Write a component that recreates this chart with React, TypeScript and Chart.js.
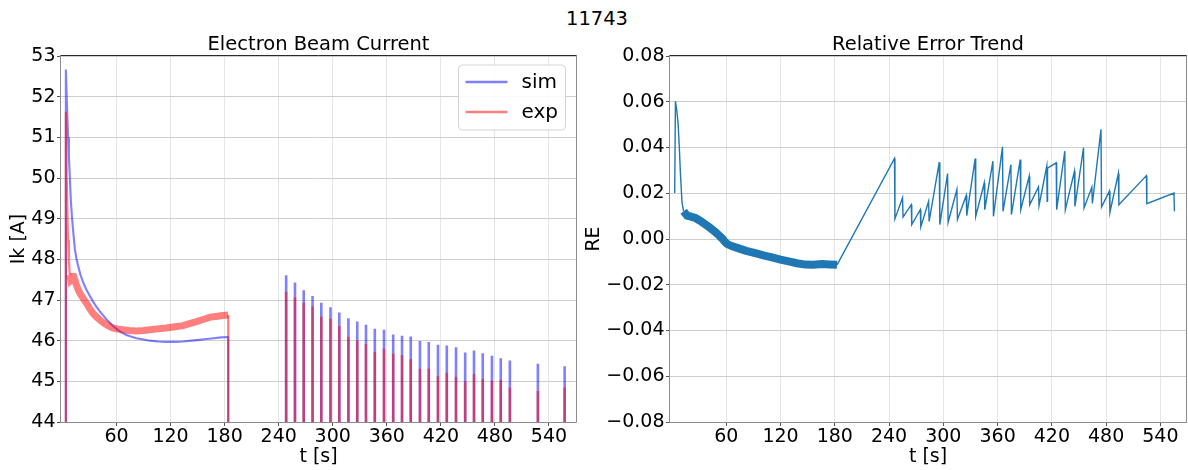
import React, { useEffect, useRef } from "react";
import { Chart, registerables } from "chart.js";

Chart.register(...registerables);

const FONT = "'DejaVu Sans', 'Liberation Sans', sans-serif";

// ---------- texts ----------
const suptitle = "11743";
const leftTitle = "Electron Beam Current";
const rightTitle = "Relative Error Trend";
const xLabel = "t [s]";
const leftYLabel = "Ik [A]";
const rightYLabel = "RE";
const legendLabels = ["sim", "exp"];

// ---------- ticks ----------
const xTicks = [60, 120, 180, 240, 300, 360, 420, 480, 540];
const ikTicks = [44, 45, 46, 47, 48, 49, 50, 51, 52, 53];
const reTicks = [-0.08, -0.06, -0.04, -0.02, 0, 0.02, 0.04, 0.06, 0.08];

// ---------- Electron beam current: continuous phase ----------
const offLevel = 0; // current between pulses (below the visible range)

const simT = [3.8, 5.0, 6.3, 7.2, 8.2, 9.3, 10.8, 12.3, 13.8, 15.5, 17.4, 20, 23, 26.5, 30.4, 34, 37.8, 41.5, 45.2, 49, 52.6, 56, 60, 65, 71, 76, 82, 90, 97, 106, 115, 125, 134, 143, 152, 160, 168, 176, 184];
const simV = [52.67, 51.8, 51.0, 50.5, 50.03, 49.46, 48.97, 48.6, 48.25, 48.02, 47.84, 47.62, 47.43, 47.26, 47.1, 46.96, 46.83, 46.72, 46.62, 46.52, 46.44, 46.36, 46.29, 46.21, 46.14, 46.1, 46.06, 46.03, 46.0, 45.98, 45.97, 45.97, 45.98, 46.0, 46.02, 46.04, 46.06, 46.08, 46.09];

const expT = [3.8, 4.8, 5.6, 6.3, 7.2, 8.2, 9.3, 10.3, 11.3, 12.6, 13.8, 14.9, 17, 19.3, 23, 26.7, 30, 34, 37.5, 41.5, 46, 50.7, 55, 60, 67, 74, 82, 90, 97, 106, 115, 125, 134, 141, 149, 156, 164, 172, 178, 184];
const expV = [51.63, 50.0, 49.0, 48.48, 47.95, 47.62, 47.48, 47.5, 47.58, 47.58, 47.5, 47.41, 47.28, 47.17, 47.04, 46.92, 46.8, 46.67, 46.59, 46.51, 46.43, 46.37, 46.32, 46.29, 46.27, 46.25, 46.24, 46.25, 46.27, 46.29, 46.31, 46.34, 46.37, 46.42, 46.47, 46.52, 46.58, 46.6, 46.62, 46.63];

// ---------- Electron beam current: pulsed phase ----------
const pulseT = [248.3, 258.1, 267.8, 277.6, 287.3, 297.5, 307.3, 317.4, 327.2, 336.9, 346.7, 356.9, 367.1, 376.9, 386.6, 396.8, 406.6, 416.8, 426.6, 436.8, 447.0, 456.8, 466.5, 476.7, 486.5, 496.6, 527.7, 557.4];
const pulseSim = [47.61, 47.43, 47.24, 47.1, 46.93, 46.82, 46.69, 46.55, 46.47, 46.39, 46.29, 46.27, 46.15, 46.12, 46.1, 45.99, 45.97, 45.9, 45.88, 45.84, 45.71, 45.76, 45.69, 45.63, 45.57, 45.51, 45.43, 45.37];
const pulseExp = [47.2, 47.06, 46.93, 46.84, 46.59, 46.54, 46.36, 46.09, 46.0, 45.92, 45.72, 45.81, 45.68, 45.65, 45.54, 45.31, 45.31, 45.13, 45.21, 45.11, 45.0, 45.18, 45.06, 45.02, 45.03, 44.85, 44.76, 44.85];

// ---------- Relative error ----------
const reHeadT = [3.0, 3.8, 5.2, 6.7, 8.0, 9.3, 11.1, 12.9];
const reHeadV = [0.0201, 0.0602, 0.0565, 0.0508, 0.041, 0.0289, 0.0158, 0.0121];

const reBandT = [12.9, 16.7, 21, 25.9, 31, 37, 42, 48, 52, 55.3, 58, 61, 66, 73.7, 82, 92, 101, 110.6, 120, 129, 138, 147.4, 156, 165.9, 174, 182.5];
const reBandV = [0.0121, 0.0102, 0.0098, 0.0092, 0.008, 0.0063, 0.0049, 0.003, 0.0016, 0.0003, -0.001, -0.0022, -0.0031, -0.0041, -0.0052, -0.0062, -0.0072, -0.008, -0.009, -0.0098, -0.0106, -0.0112, -0.0113, -0.0109, -0.0111, -0.0113];

const reTailT = [182.5, 246.0, 246.5, 254.9, 255.5, 264.5, 265.1, 274.5, 275.1, 283.7, 284.3, 295.5, 296.1, 304.7, 305.3, 315.0, 315.6, 325.3, 325.9, 335.2, 335.8, 345.2, 345.8, 354.8, 355.4, 365.4, 366.0, 374.7, 375.3, 385.0, 385.6, 394.9, 395.5, 405.2, 405.8, 414.4, 414.8, 415.2, 424.8, 425.3, 434.3, 434.9, 444.9, 445.5, 455.0, 455.6, 464.2, 464.8, 474.3, 474.9, 483.6, 484.2, 493.5, 494.1, 524.5, 525.0, 555.0, 555.5];
const reTailV = [-0.0113, 0.0352, 0.0088, 0.018, 0.0096, 0.015, 0.0063, 0.0128, 0.0053, 0.0165, 0.0077, 0.0336, 0.0063, 0.0286, 0.0073, 0.0216, 0.0085, 0.019, 0.0102, 0.0352, 0.0099, 0.0245, 0.0128, 0.034, 0.0099, 0.0403, 0.0121, 0.0325, 0.0107, 0.0347, 0.0128, 0.0274, 0.015, 0.0228, 0.0146, 0.032, 0.0165, 0.031, 0.0333, 0.0128, 0.0384, 0.0128, 0.0296, 0.0143, 0.0399, 0.0136, 0.0226, 0.0155, 0.0479, 0.014, 0.0209, 0.0117, 0.0286, 0.015, 0.0277, 0.0154, 0.0201, 0.0121];

// ---------- styles ----------
const SIM_COLOR = "rgba(0, 0, 255, 0.5)";
const EXP_COLOR = "rgba(255, 0, 0, 0.5)";
const RE_COLOR = "#1f77b4";

type P = { x: number; y: number | null };

const toPts = (t: number[], v: number[]): P[] => t.map((x, i) => ({ x, y: v[i] }));
const pulsePts = (t: number[], peaks: number[]): P[] => {
  const out: P[] = [];
  t.forEach((x, i) => {
    out.push({ x, y: offLevel }, { x, y: peaks[i] }, { x, y: offLevel });
  });
  return out;
};

const framePlugin = (withLegend: boolean) => ({
  id: "frameAndLegend",
  afterDraw(chart: any) {
    const { ctx, chartArea: ca } = chart;
    const l = Math.round(ca.left) - 0.5;
    const r = Math.round(ca.right) + 0.5;
    const t = Math.round(ca.top) - 0.5;
    const b = Math.round(ca.bottom) + 0.5;
    ctx.save();
    ctx.lineWidth = 1;
    ctx.strokeStyle = "#8c8c8c";
    ctx.beginPath();
    ctx.moveTo(l, t);
    ctx.lineTo(l, b);
    ctx.lineTo(r, b);
    ctx.lineTo(r, t);
    ctx.stroke();
    ctx.strokeStyle = "#2a2a2a";
    ctx.beginPath();
    ctx.moveTo(l, t);
    ctx.lineTo(r, t);
    ctx.stroke();

    if (withLegend) {
      const w = 107;
      const h = 65;
      const bx = ca.right - 10.5 - w;
      const by = ca.top + 9;
      ctx.beginPath();
      if ((ctx as any).roundRect) (ctx as any).roundRect(bx, by, w, h, 4);
      else ctx.rect(bx, by, w, h);
      ctx.fillStyle = "rgba(255,255,255,0.85)";
      ctx.fill();
      ctx.strokeStyle = "#d4d4d4";
      ctx.stroke();
      const colors = [SIM_COLOR, EXP_COLOR];
      legendLabels.forEach((lab, i) => {
        const y = by + 17 + i * 30;
        ctx.beginPath();
        ctx.strokeStyle = colors[i];
        ctx.lineWidth = 2.5;
        ctx.moveTo(bx + 7, y);
        ctx.lineTo(bx + 49, y);
        ctx.stroke();
        ctx.fillStyle = "#000";
        ctx.font = `20px ${FONT}`;
        ctx.textBaseline = "middle";
        ctx.textAlign = "left";
        ctx.fillText(lab, bx + 63, y + 1);
      });
    }
    ctx.restore();
  },
});

const tickFont = { family: FONT, size: 19, lineHeight: 1 };
const titleFont = { family: FONT, size: 19.5, weight: "normal" as const, lineHeight: 1 };

function buildXScale(min: number, max: number) {
  return {
    type: "linear" as const,
    min,
    max,
    afterBuildTicks: (axis: any) => {
      axis.ticks = xTicks.map((v) => ({ value: v }));
    },
    afterFit: (scale: any) => {
      scale.height = 48;
    },
    ticks: { font: tickFont, color: "#000", padding: 1.5, maxRotation: 0, autoSkip: false },
    grid: { color: "#e4e4e4", lineWidth: 1, tickLength: 4, tickColor: "#555" },
    border: { display: false },
    title: { display: true, text: xLabel, font: tickFont, color: "#000", padding: { top: 0, bottom: 3.5 } },
  };
}

function buildYScale(min: number, max: number, ticks: number[], width: number, label: string, titlePad: number, fmt: (v: number) => string) {
  return {
    type: "linear" as const,
    min,
    max,
    afterBuildTicks: (axis: any) => {
      axis.ticks = ticks.map((v) => ({ value: v }));
    },
    afterFit: (scale: any) => {
      scale.width = width;
    },
    ticks: { font: tickFont, color: "#000", padding: 1.5, callback: (v: any) => fmt(Number(v)) },
    grid: { color: "#cecece", lineWidth: 1, tickLength: 4, tickColor: "#555" },
    border: { display: false },
    title: { display: true, text: label, font: tickFont, color: "#000", padding: { top: titlePad, bottom: 0 } },
  };
}

const baseDs = { pointRadius: 0, pointHoverRadius: 0, tension: 0, fill: false, spanGaps: false };

function LeftChart() {
  const ref = useRef<HTMLCanvasElement>(null);
  useEffect(() => {
    const simCurve: P[] = [
      { x: simT[0], y: offLevel },
      ...toPts(simT, simV),
      { x: simT[simT.length - 1], y: offLevel },
    ];
    const simPulses: P[] = pulsePts(pulseT, pulseSim);
    const split = 5;
    const expThin: P[] = [
      { x: expT[0], y: offLevel },
      ...toPts(expT.slice(0, split + 1), expV.slice(0, split + 1)),
      { x: (expT[split] + expT[expT.length - 1]) / 2, y: null },
      { x: expT[expT.length - 1], y: expV[expV.length - 1] },
      { x: expT[expT.length - 1], y: offLevel },
    ];
    const expPulses: P[] = pulsePts(pulseT, pulseExp);
    const expBand: P[] = toPts(expT.slice(split), expV.slice(split));

    const chart = new Chart(ref.current as HTMLCanvasElement, {
      type: "line",
      data: {
        datasets: [
          { ...baseDs, label: "sim", data: simCurve as any, borderColor: SIM_COLOR, borderWidth: 2.1, order: 5 },
          { ...baseDs, label: "sim pulses", data: simPulses as any, borderColor: SIM_COLOR, borderWidth: 2.6, order: 4 },
          { ...baseDs, label: "exp", data: expBand as any, borderColor: EXP_COLOR, borderWidth: 7, order: 3 },
          { ...baseDs, label: "exp start", data: expThin as any, borderColor: EXP_COLOR, borderWidth: 2.2, order: 2 },
          { ...baseDs, label: "exp pulses", data: expPulses as any, borderColor: EXP_COLOR, borderWidth: 2.6, order: 1 },
        ],
      },
      options: {
        animation: false,
        responsive: false,
        devicePixelRatio: 1,
        events: [],
        layout: { padding: { left: 0, right: 4, top: 0, bottom: 0 } },
        plugins: {
          legend: { display: false },
          tooltip: { enabled: false },
          title: { display: true, text: leftTitle, fullSize: false, font: titleFont, color: "#000", padding: { top: 35, bottom: 1.5 } },
        },
        scales: {
          x: buildXScale(-1.6, 570) as any,
          y: buildYScale(44, 53, ikTicks, 61, leftYLabel, 9.5, (v) => String(Math.round(v))) as any,
        },
      },
      plugins: [framePlugin(true)],
    });
    return () => chart.destroy();
  }, []);
  return <canvas ref={ref} width={580} height={470} style={{ position: "absolute", left: 0, top: 0, width: 580, height: 470 }} />;
}

function RightChart() {
  const ref = useRef<HTMLCanvasElement>(null);
  useEffect(() => {
    const thin: P[] = [
      ...toPts(reHeadT, reHeadV),
      { x: (reHeadT[reHeadT.length - 1] + reTailT[0]) / 2, y: null },
      ...toPts(reTailT, reTailV),
    ];
    const band: P[] = toPts(reBandT, reBandV);
    const fmt = (v: number) => {
      if (Math.abs(v) < 1e-9) return "0.00";
      return (v < 0 ? "\u2212" : "") + Math.abs(v).toFixed(2);
    };
    const chart = new Chart(ref.current as HTMLCanvasElement, {
      type: "line",
      data: {
        datasets: [
          { ...baseDs, label: "RE", data: thin as any, borderColor: RE_COLOR, borderWidth: 1.4, order: 1 },
          { ...baseDs, label: "RE band", data: band as any, borderColor: RE_COLOR, borderWidth: 8, order: 2 },
        ],
      },
      options: {
        animation: false,
        responsive: false,
        devicePixelRatio: 1,
        events: [],
        layout: { padding: { left: 0, right: 2, top: 0, bottom: 0 } },
        plugins: {
          legend: { display: false },
          tooltip: { enabled: false },
          title: { display: true, text: rightTitle, fullSize: false, font: titleFont, color: "#000", padding: { top: 35, bottom: 1.5 } },
        },
        scales: {
          x: buildXScale(-2.2, 568.3) as any,
          y: buildYScale(-0.08, 0.08, reTicks, 90, rightYLabel, 4.5, fmt) as any,
        },
      },
      plugins: [framePlugin(false)],
    });
    return () => chart.destroy();
  }, []);
  return <canvas ref={ref} width={608} height={470} style={{ position: "absolute", left: 580, top: 0, width: 608, height: 470 }} />;
}

export default function App() {
  return (
    <div style={{ position: "fixed", left: 0, top: 0, width: 1188, height: 470, background: "#fff", overflow: "hidden" }}>
      <div
        style={{
          position: "absolute",
          left: 3,
          top: 9,
          width: 1188,
          textAlign: "center",
          fontFamily: FONT,
          fontSize: "19.5px",
          lineHeight: "20px",
          color: "#000",
        }}
      >
        {suptitle}
      </div>
      <LeftChart />
      <RightChart />
    </div>
  );
}
